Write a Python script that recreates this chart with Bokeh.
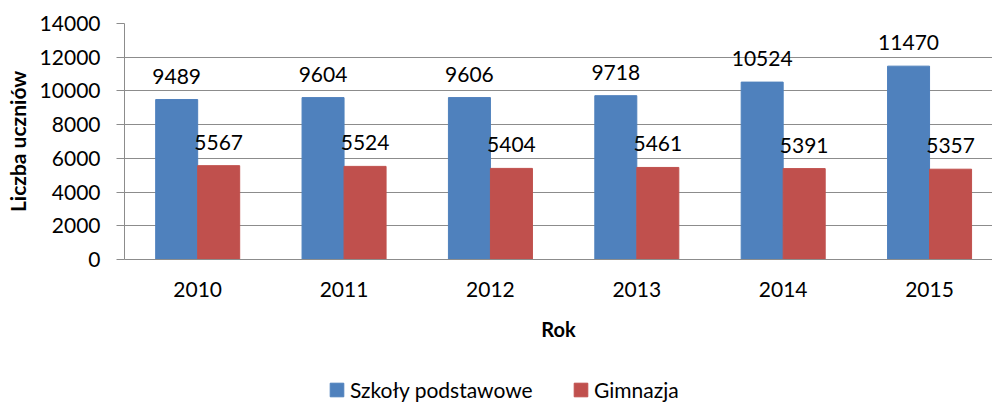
from bokeh.plotting import figure
from bokeh.layouts import column
from bokeh.models import Range1d, FixedTicker, ColumnDataSource, Legend, LegendItem, LabelSet
from bokeh.core.properties import value
from bokeh.embed import file_html
from bokeh.resources import INLINE

years = ["2010", "2011", "2012", "2013", "2014", "2015"]
podstawowe = [9489, 9604, 9606, 9718, 10524, 11470]
gimnazja = [5567, 5524, 5404, 5461, 5391, 5357]
y_ticks = [0, 2000, 4000, 6000, 8000, 10000, 12000, 14000]
series_names = ["Szkoły podstawowe", "Gimnazja"]

BLUE = "#4F81BD"
RED = "#C0504D"
GRID = "#8C8C8C"
FONT = "Lato"
FS = "21px"

bw = 0.287
xc = [i + 0.5 for i in range(len(years))]
src_b = ColumnDataSource(dict(x=[c - bw / 2 for c in xc], top=podstawowe, lab=[str(v) for v in podstawowe]))
src_r = ColumnDataSource(dict(x=[c + bw / 2 for c in xc], top=gimnazja, lab=[str(v) for v in gimnazja]))

p = figure(width=992, height=360, output_backend="svg", toolbar_location=None,
           x_range=Range1d(0, 5.93), y_range=Range1d(0, 14000),
           min_border_left=124, min_border_right=0, min_border_top=23, min_border_bottom=101)
p.outline_line_color = None

p.vbar(x="x", top="top", width=bw, source=src_b, fill_color=BLUE, line_color=BLUE)
p.vbar(x="x", top="top", width=bw, source=src_r, fill_color=RED, line_color=RED)

for src in (src_b, src_r):
    p.add_layout(LabelSet(x="x", y="top", text="lab", source=src, text_align="center",
                          text_baseline="alphabetic", y_offset=16, text_font=value(FONT),
                          text_font_size=FS, text_color="black"))

p.xgrid.grid_line_color = None
p.ygrid.ticker = FixedTicker(ticks=y_ticks)
p.ygrid.grid_line_color = GRID
p.ygrid.grid_line_width = 1

p.yaxis.ticker = FixedTicker(ticks=y_ticks)
p.yaxis.axis_line_color = GRID
p.yaxis.major_tick_line_color = GRID
p.yaxis.major_tick_out = 8
p.yaxis.major_tick_in = 0
p.yaxis.minor_tick_line_color = None
p.yaxis.major_label_standoff = 16
p.yaxis.major_label_text_font = FONT
p.yaxis.major_label_text_font_size = FS
p.yaxis.major_label_text_color = "black"
p.yaxis.axis_label = "Liczba uczniów"
p.yaxis.axis_label_text_font = FONT
p.yaxis.axis_label_text_font_size = "21px"
p.yaxis.axis_label_text_font_style = "bold"
p.yaxis.axis_label_text_color = "black"
p.yaxis.axis_label_standoff = 7

p.xaxis.ticker = FixedTicker(ticks=xc)
p.xaxis.major_label_overrides = {c: y for c, y in zip(xc, years)}
p.xaxis.axis_line_color = GRID
p.xaxis.major_tick_line_color = None
p.xaxis.minor_tick_line_color = None
p.xaxis.major_tick_out = 0
p.xaxis.major_label_standoff = 22
p.xaxis.major_label_text_font = FONT
p.xaxis.major_label_text_font_size = FS
p.xaxis.major_label_text_color = "black"
p.xaxis.axis_label = "Rok"
p.xaxis.axis_label_text_font = FONT
p.xaxis.axis_label_text_font_size = "20px"
p.xaxis.axis_label_text_font_style = "bold"
p.xaxis.axis_label_text_color = "black"
p.xaxis.axis_label_standoff = 17

# legend strip below the chart (its frame is aligned with the chart frame, x0 = 124 px)
q = figure(width=992, height=44, output_backend="svg", toolbar_location=None,
           x_range=Range1d(0, 1), y_range=Range1d(0, 1),
           x_axis_type=None, y_axis_type=None, min_border=0)
q.outline_line_color = None
q.grid.visible = False
lb = q.vbar(x=[50], top=[1], width=1, fill_color=BLUE, line_color=BLUE)
lr = q.vbar(x=[50], top=[1], width=1, fill_color=RED, line_color=RED)

for name, rend, xpos in zip(series_names, [lb, lr], [204, 448]):
    lg = Legend(items=[LegendItem(label=name, renderers=[rend])],
                location=(xpos, -1), glyph_width=17, glyph_height=17, label_standoff=5,
                padding=0, margin=0, border_line_color=None, background_fill_alpha=0,
                label_text_font=FONT, label_text_font_size=FS, label_text_color="black",
                label_text_baseline="alphabetic", label_height=32)
    q.add_layout(lg, "center")

layout = column(p, q, spacing=0)
open("out.html", "w").write(file_html(layout, INLINE))
